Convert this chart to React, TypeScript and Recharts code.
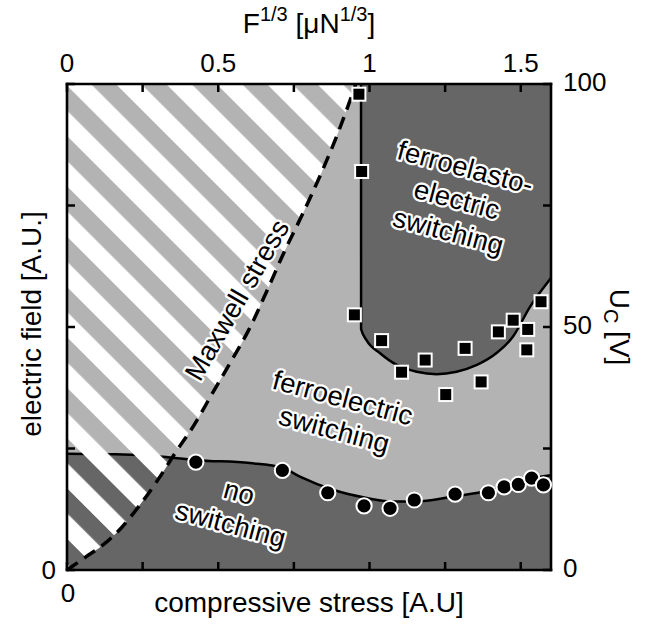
import React from "react";
import { ComposedChart, Area, Line, Scatter, XAxis, YAxis } from "recharts";

const FONT = '"Liberation Sans", Arial, Helvetica, sans-serif';

// Maxwell stress boundary (dashed), F^1/3 vs U
const maxwellF = [0, 0.06, 0.12, 0.18, 0.24, 0.3, 0.36, 0.42, 0.48, 0.54, 0.6, 0.66, 0.72, 0.78, 0.84, 0.9, 0.955];
const maxwellU = [0, 2.6, 5.2, 8.7, 13.3, 18.5, 24.3, 29.8, 36.3, 42.7, 49.3, 57.3, 65.7, 73.4, 81.6, 90.6, 100];

// no switching / ferroelectric switching boundary
const lowF = [0, 0.16, 0.317, 0.429, 0.605, 0.714, 0.77, 0.879, 0.991, 1.068, 1.156, 1.266, 1.376, 1.487, 1.541, 1.6];
const lowU = [23.9, 23.8, 23.3, 22.6, 22.0, 21.0, 19.2, 16.5, 14.8, 14.1, 14.1, 15.0, 16.1, 17.8, 18.9, 19.5];

// ferroelectric / ferroelastoelectric boundary
const highF = [0.972, 0.9722, 0.99, 1.035, 1.09, 1.156, 1.222, 1.288, 1.355, 1.421, 1.474, 1.531, 1.6];
const highU = [100, 49.6, 47.3, 44.6, 42.2, 40.8, 40.3, 40.8, 42.2, 44.7, 48.0, 54.2, 60.1];

// measured points
const squareF = [0.965, 0.974, 0.95, 1.04, 1.106, 1.184, 1.252, 1.316, 1.369, 1.426, 1.475, 1.523, 1.52, 1.567];
const squareU = [97.9, 82.0, 52.5, 47.2, 40.7, 43.2, 36.1, 45.6, 38.7, 49.0, 51.4, 49.5, 45.3, 55.2];
const circleF = [0.426, 0.712, 0.862, 0.982, 1.068, 1.148, 1.283, 1.393, 1.445, 1.492, 1.536, 1.575];
const circleU = [22.2, 20.5, 15.9, 13.2, 12.7, 14.4, 15.6, 15.9, 17.1, 17.6, 18.9, 17.5];

const xTicks = [0, 0.25, 0.5, 0.75, 1, 1.25, 1.5];
const yTicks = [0, 25, 50, 75, 100];
const topLabels = [0, 0.5, 1, 1.5];
const rightLabels = [0, 50, 100];

const notes = [
  { f: 1.289, u: 76.3, angle: 15, lines: ["ferroelasto-", "electric", "switching"] },
  { f: 0.898, u: 32.2, angle: 15, lines: ["ferroelectric", "switching"] },
  { f: 0.555, u: 12.8, angle: 15, lines: ["no", "switching"] },
  { f: 0.561, u: 55.6, angle: -60, lines: ["Maxwell stress"] },
];

const zip = (f: number[], u: number[]) => f.map((v, i) => ({ f: v, u: u[i] }));
const maxwell = zip(maxwellF, maxwellU);
const lowEdge = zip(lowF, lowU);
const highEdge = zip(highF, highU);
const squares = zip(squareF, squareU);
const circles = zip(circleF, circleU);
const background = zip([0, 1.6], [100, 100]);

const PLOT = { left: 67, top: 84, right: 551, bottom: 570 };
const TICK = 8;
const tickLine = { stroke: "#000", strokeWidth: 2.5 };
const frame = { stroke: "#000", strokeWidth: 2.6, strokeLinecap: "square" as const };

const TopTick = ({ x, payload }: any) => (
  <g>
    <line x1={x} x2={x} y1={PLOT.top} y2={PLOT.top + TICK} {...tickLine} />
    {topLabels.includes(payload.value) && (
      <text x={x} y={PLOT.top - 12} textAnchor="middle" fontSize={26} fontFamily={FONT} fill="#000">
        {payload.value}
      </text>
    )}
  </g>
);

const BottomTick = ({ x, payload }: any) => (
  <g>
    <line x1={x} x2={x} y1={PLOT.bottom} y2={PLOT.bottom - TICK} {...tickLine} />
    {payload.value === 0 && (
      <text x={x + 1} y={PLOT.bottom + 32} textAnchor="middle" fontSize={26} fontFamily={FONT} fill="#000">
        0
      </text>
    )}
  </g>
);

const LeftTick = ({ y, payload }: any) => (
  <g>
    <line x1={PLOT.left} x2={PLOT.left + TICK} y1={y} y2={y} {...tickLine} />
    {payload.value === 0 && (
      <text x={56} y={y + 9} textAnchor="end" fontSize={26} fontFamily={FONT} fill="#000">
        0
      </text>
    )}
  </g>
);

const RightTick = ({ y, payload }: any) => (
  <g>
    <line x1={PLOT.right} x2={PLOT.right - TICK} y1={y} y2={y} {...tickLine} />
    {rightLabels.includes(payload.value) && (
      <text x={563} y={y + 7} textAnchor="start" fontSize={26} fontFamily={FONT} fill="#000">
        {payload.value}
      </text>
    )}
  </g>
);

const NoteShape = ({ cx, cy, payload }: any) => {
  const n = payload.lines.length;
  return (
    <g transform={`translate(${cx},${cy}) rotate(${payload.angle})`}>
      {payload.lines.map((t: string, i: number) => (
        <text
          key={i}
          x={0}
          y={(i - (n - 1) / 2) * 33}
          dy="0.35em"
          textAnchor="middle"
          fontSize={27.5}
          fontFamily={FONT}
          fill="#000"
          stroke="#fff"
          strokeWidth={4.5}
          strokeLinejoin="round"
          paintOrder="stroke"
        >
          {t}
        </text>
      ))}
    </g>
  );
};

const SquareShape = ({ cx, cy }: any) => (
  <rect x={cx - 6.5} y={cy - 6.5} width={13} height={13} fill="#000" stroke="#fff" strokeWidth={2} />
);
const CircleShape = ({ cx, cy }: any) => <circle cx={cx} cy={cy} r={7.6} fill="#000" stroke="#fff" strokeWidth={2} />;

const TopTitle = () => (
  <text x={(PLOT.left + PLOT.right) / 2} y={33} textAnchor="middle" fontSize={28} fontFamily={FONT} fill="#000">
    F<tspan fontSize={20} dy={-12}>1/3</tspan>
    <tspan dy={12}> [μN</tspan>
    <tspan fontSize={20} dy={-12}>1/3</tspan>
    <tspan dy={12}>]</tspan>
  </text>
);
const BottomTitle = () => (
  <text x={(PLOT.left + PLOT.right) / 2} y={612} textAnchor="middle" fontSize={28} fontFamily={FONT} fill="#000">
    compressive stress [A.U]
  </text>
);
const LeftTitle = () => (
  <text x={41} y={324} transform="rotate(-90 41 324)" textAnchor="middle" fontSize={28} fontFamily={FONT} fill="#000">
    electric field [A.U.]
  </text>
);
const RightTitle = () => (
  <text x={610} y={327} transform="rotate(90 610 327)" textAnchor="middle" fontSize={28} fontFamily={FONT} fill="#000">
    U<tspan fontSize={20} dy={6}>C</tspan>
    <tspan dy={-6}> [V]</tspan>
  </text>
);

export default function App() {
  return (
    <div style={{ position: "absolute", left: 0, top: 0, width: 647, height: 627, background: "#fff" }}>
      <svg width={0} height={0} style={{ position: "absolute" }}>
        <defs>
          <pattern id="whiteStripes" patternUnits="userSpaceOnUse" x={22.5} y={0} width={35.6} height={35.6} patternTransform="rotate(-45)">
            <rect x={0} y={0} width={18} height={35.6} fill="#fff" />
          </pattern>
        </defs>
      </svg>
      <ComposedChart width={647} height={627} margin={{ top: 4, right: 5, bottom: 5, left: 5 }}>
        <Area xAxisId="t" yAxisId="r" data={background} dataKey="u" type="linear" fill="#b3b3b3" fillOpacity={1} stroke="none" isAnimationActive={false} activeDot={false} />
        <Area xAxisId="b" yAxisId="l" data={lowEdge} dataKey="u" type="monotone" fill="#666666" fillOpacity={1} stroke="#000" strokeWidth={2.5} isAnimationActive={false} activeDot={false} />
        <Area xAxisId="b" yAxisId="l" data={highEdge} dataKey={(d: any) => [d.u, 100]} type="monotone" fill="#666666" fillOpacity={1} stroke="none" isAnimationActive={false} activeDot={false} />
        <Area xAxisId="b" yAxisId="l" data={maxwell} dataKey={(d: any) => [d.u, 100]} type="monotone" fill="url(#whiteStripes)" fillOpacity={1} stroke="none" isAnimationActive={false} activeDot={false} />
        <Line xAxisId="b" yAxisId="l" data={highEdge} dataKey="u" type="monotone" stroke="#000" strokeWidth={2.5} dot={false} activeDot={false} isAnimationActive={false} />
        <Line xAxisId="b" yAxisId="l" data={maxwell} dataKey="u" type="monotone" stroke="#000" strokeWidth={3.5} strokeDasharray="13 8" dot={false} activeDot={false} isAnimationActive={false} />
        <Scatter xAxisId="b" yAxisId="l" data={squares} shape={SquareShape} isAnimationActive={false} />
        <Scatter xAxisId="b" yAxisId="l" data={circles} shape={CircleShape} isAnimationActive={false} />
        <Scatter xAxisId="b" yAxisId="l" data={notes} shape={NoteShape} isAnimationActive={false} />
        <XAxis xAxisId="b" orientation="bottom" type="number" dataKey="f" domain={[0, 1.6]} ticks={xTicks} interval={0} height={52} axisLine={frame} tickLine={false} tick={BottomTick} label={BottomTitle} />
        <XAxis xAxisId="t" orientation="top" type="number" dataKey="f" domain={[0, 1.6]} ticks={xTicks} interval={0} height={80} axisLine={frame} tickLine={false} tick={TopTick} label={TopTitle} />
        <YAxis yAxisId="l" orientation="left" type="number" dataKey="u" domain={[0, 100]} ticks={yTicks} interval={0} width={62} axisLine={frame} tickLine={false} tick={LeftTick} label={LeftTitle} />
        <YAxis yAxisId="r" orientation="right" type="number" dataKey="u" domain={[0, 100]} ticks={yTicks} interval={0} width={91} axisLine={frame} tickLine={false} tick={RightTick} label={RightTitle} />
      </ComposedChart>
    </div>
  );
}
